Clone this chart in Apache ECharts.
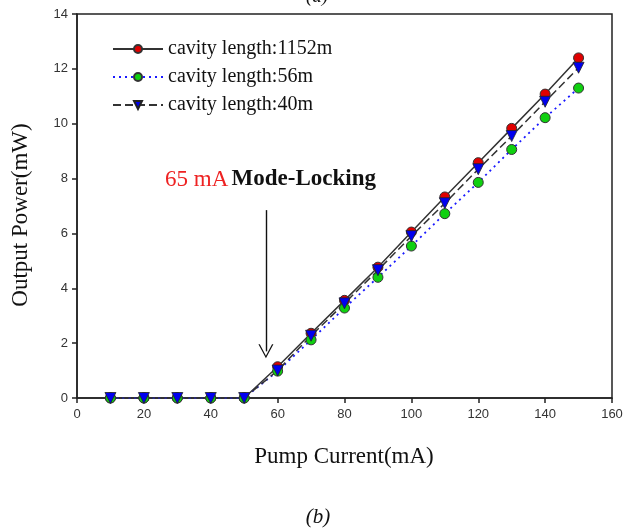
<!DOCTYPE html>
<html>
<head>
    <meta charset="utf-8" />
    <script src="https://cdn.jsdelivr.net/npm/echarts@6/dist/echarts.min.js"></script>
    <title></title>
    <style>
        body { margin: 0; background: #fff; }
    </style>
</head>
<body>
    <div id="main" style="width: 634px;height:531px;"></div>

    <script type="text/javascript">

        // pump current (mA)
        var current = [10, 20, 30, 40, 50, 60, 70, 80, 90, 100, 110, 120, 130, 140, 150];
        // output power (mW)
        var len1152 = [0, 0, 0, 0, 0, 1.14, 2.36, 3.56, 4.77, 6.05, 7.33, 8.58, 9.83, 11.08, 12.4];
        var len56 = [0, 0, 0, 0, 0, 0.98, 2.12, 3.28, 4.4, 5.54, 6.72, 7.86, 9.06, 10.22, 11.3];
        var len40 = [0, 0, 0, 0, 0, 1.0, 2.27, 3.45, 4.66, 5.9, 7.1, 8.34, 9.55, 10.8, 12.04];
        var names = ['cavity length:1152m', 'cavity length:56m', 'cavity length:40m'];

        // arrow for mode-locking annotation (data coordinates)
        var arrowX = 56.5;
        var arrowTop = 6.85;
        var arrowBottom = 1.7;

        function pairs(ys) {
            var out = [];
            for (var i = 0; i < current.length; i++) {
                out.push([current[i], ys[i]]);
            }
            return out;
        }

        var serif = '"Liberation Serif", "DejaVu Serif", serif';
        var sans = '"Liberation Sans", Arial, sans-serif';
        var openArrow = 'path://M0,14 L7.5,0 L15,14 L13.6,14 L7.5,2.6 L1.4,14 Z';

        var myChart = echarts.init(document.getElementById('main'));

        myChart.setOption({
            animation: false,
            backgroundColor: '#fff',
            grid: {
                left: 77, right: 22, top: 14, bottom: 133,
                show: true, borderColor: '#222', borderWidth: 1.5
            },
            legend: {
                orient: 'vertical',
                left: 107, top: 34,
                itemWidth: 50, itemHeight: 10,
                itemGap: 8,
                data: names,
                textStyle: { fontFamily: serif, fontSize: 20, color: '#111' }
            },
            xAxis: {
                type: 'value',
                min: 0, max: 160, interval: 20,
                axisLine: { show: true, lineStyle: { color: '#222', width: 1.5 } },
                axisTick: { show: true, length: 5, lineStyle: { color: '#222', width: 1.5 } },
                axisLabel: { fontFamily: sans, fontSize: 13, color: '#333', margin: 10 },
                splitLine: { show: false }
            },
            yAxis: {
                type: 'value',
                min: 0, max: 14, interval: 2,
                axisLine: { show: true, lineStyle: { color: '#222', width: 1.5 } },
                axisTick: { show: true, length: 5, lineStyle: { color: '#222', width: 1.5 } },
                axisLabel: { fontFamily: sans, fontSize: 13, color: '#333', margin: 9 },
                splitLine: { show: false }
            },
            series: [
                {
                    name: names[0],
                    type: 'line',
                    data: pairs(len1152),
                    symbol: 'circle',
                    symbolSize: 10,
                    itemStyle: { color: '#e00000', borderColor: '#333', borderWidth: 1 },
                    lineStyle: { color: '#333', width: 1.5, type: 'solid' },
                    markLine: {
                        silent: true,
                        symbol: ['none', openArrow],
                        symbolSize: [15, 14],
                        label: { show: false },
                        lineStyle: { color: '#111', width: 1.4, type: 'solid' },
                        data: [[{ coord: [arrowX, arrowTop] }, { coord: [arrowX, arrowBottom] }]]
                    }
                },
                {
                    name: names[1],
                    type: 'line',
                    data: pairs(len56),
                    symbol: 'circle',
                    symbolSize: 10,
                    itemStyle: { color: '#10d010', borderColor: '#333', borderWidth: 1 },
                    lineStyle: { color: '#1a1aff', width: 1.8, type: [2, 4] }
                },
                {
                    name: names[2],
                    type: 'line',
                    data: pairs(len40),
                    symbol: 'triangle',
                    symbolRotate: 180,
                    symbolSize: 11,
                    itemStyle: { color: '#0000ee', borderColor: '#222', borderWidth: 0.8 },
                    lineStyle: { color: '#333', width: 1.5, type: [8, 4] }
                }
            ],
            graphic: [
                {
                    type: 'text',
                    left: 'center',
                    top: -13,
                    style: { text: '(a)', font: 'italic 19px ' + serif, fill: '#111' }
                },
                {
                    type: 'text',
                    x: 21, y: 215,
                    rotation: Math.PI / 2,
                    style: {
                        text: 'Output Power(mW)', font: '23px ' + serif, fill: '#111',
                        align: 'center', verticalAlign: 'middle'
                    }
                },
                {
                    type: 'text',
                    x: 344, y: 457,
                    style: {
                        text: 'Pump Current(mA)', font: '23px ' + serif, fill: '#111',
                        align: 'center', verticalAlign: 'middle'
                    }
                },
                {
                    type: 'text',
                    x: 165, y: 168,
                    style: {
                        text: '{r|65 mA} {b|Mode-Locking}',
                        rich: {
                            r: { fontFamily: serif, fontSize: 23, fill: '#ee2222', color: '#ee2222' },
                            b: { fontFamily: serif, fontSize: 23, fontWeight: 'bold', fill: '#111', color: '#111' }
                        }
                    }
                },
                {
                    type: 'text',
                    x: 318, y: 517,
                    style: {
                        text: '(b)', font: 'italic 21px ' + serif, fill: '#111',
                        align: 'center', verticalAlign: 'middle'
                    }
                }
            ]
        });

    </script>

</body>
</html>
